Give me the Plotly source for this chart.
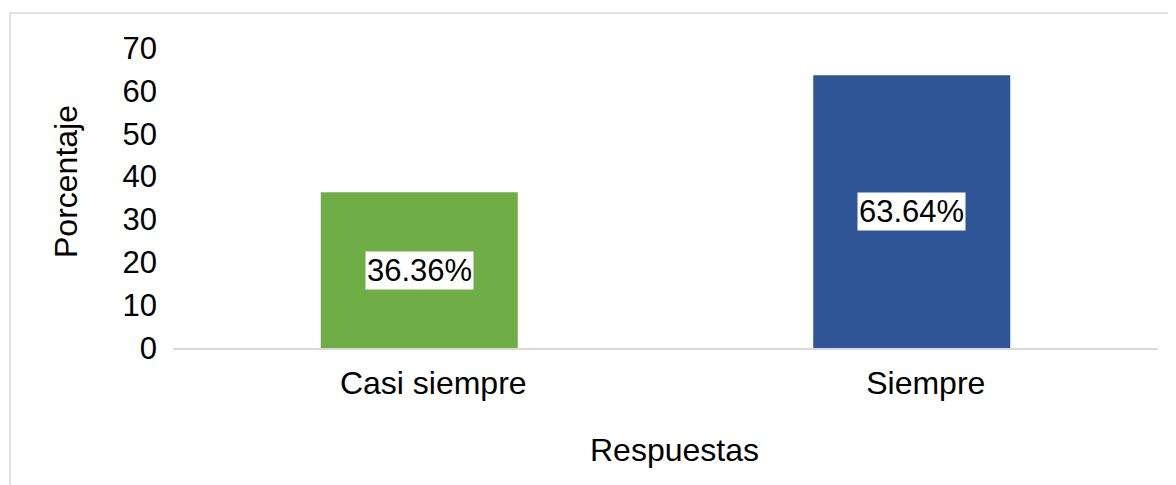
import plotly.graph_objects as go

categories = ["Casi siempre", "Siempre"]
values = [36.36, 63.64]
colors = ["#70AD47", "#2F5597"]
labels = [f"{v:.2f}%" for v in values]
y_ticks = [0, 10, 20, 30, 40, 50, 60, 70]

FONT = "Arial, Liberation Sans, sans-serif"

# plot area in figure pixels (page adds an 8px body margin)
L, R, T, B = 165, 1150, 40, 340
PW, PH = R - L, B - T

fig = go.Figure()
fig.add_trace(go.Bar(
    x=categories, y=values, marker=dict(color=colors, line=dict(width=0)),
    width=0.4, showlegend=False, hoverinfo="skip",
))

for c, v, t in zip(categories, values, labels):
    fig.add_annotation(x=c, y=v / 2, xref="x", yref="y", text=t, showarrow=False,
                       bgcolor="white", borderpad=1, yanchor="middle",
                       font=dict(family=FONT, size=31, color="black"))

fig.add_annotation(x=(58 - L) / PW, y=(B - 174) / PH, xref="paper", yref="paper",
                   text="Porcentaje", textangle=-90, showarrow=False,
                   xanchor="center", yanchor="middle",
                   font=dict(family=FONT, size=32, color="black"))
fig.add_annotation(x=(666 - L) / PW, y=(B - 442) / PH, xref="paper", yref="paper",
                   text="Respuestas", showarrow=False,
                   xanchor="center", yanchor="middle",
                   font=dict(family=FONT, size=32, color="black"))

fig.update_layout(
    width=1176, height=485,
    margin=dict(l=L, r=1176 - R, t=T, b=485 - B),
    paper_bgcolor="white", plot_bgcolor="white",
    font=dict(family=FONT, size=31, color="black"),
    xaxis=dict(
        showline=True, linecolor="#D9D9D9", linewidth=1.5, showgrid=False,
        ticks="", ticklabelstandoff=6, ticklabelshift=14, zeroline=False,
        tickfont=dict(size=32),
    ),
    yaxis=dict(
        range=[0, 70], tickvals=y_ticks, showgrid=False, zeroline=False,
        showline=False, ticks="", ticklabelstandoff=15,
    ),
    shapes=[dict(type="rect", xref="paper", yref="paper",
                 x0=(2 - L) / PW, x1=(1190 - L) / PW,
                 y0=(B - 500) / PH, y1=(B - 5) / PH,
                 line=dict(color="#D9D9D9", width=1.5), fillcolor="rgba(0,0,0,0)",
                 layer="below")],
)

fig.write_html("out.html")
